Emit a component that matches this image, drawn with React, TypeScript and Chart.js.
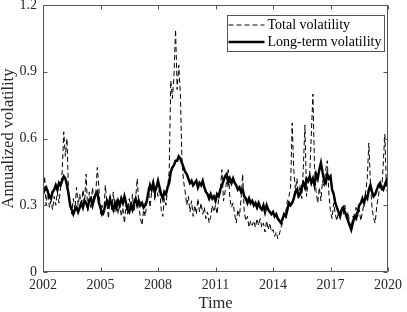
import React, { useEffect, useRef } from "react";
import { Chart, registerables } from "chart.js";

Chart.register(...registerables);

// ---------------- data ----------------
const startYear = 2002;
const monthsPerYear = 12;
const xTicks = [2002, 2005, 2008, 2011, 2014, 2017, 2020];
const yTicks = [0, 0.3, 0.6, 0.9, 1.2];
const seriesLabels = ["Total volatility", "Long-term volatility"];
const xTitle = "Time";
const yTitle = "Annualized volatility";

// monthly values, Jan 2002 .. Jan 2020
const totalVol = [
  0.33, 0.43, 0.30, 0.37, 0.29, 0.32, 0.28, 0.34, 0.30, 0.36, 0.31, 0.38,
  0.45, 0.63, 0.52, 0.60, 0.36, 0.29, 0.26, 0.33, 0.28, 0.38, 0.30, 0.35,
  0.29, 0.37, 0.31, 0.44, 0.27, 0.36, 0.29, 0.38, 0.31, 0.35, 0.47, 0.38,
  0.26, 0.30, 0.25, 0.39, 0.31, 0.24, 0.34, 0.28, 0.36, 0.27, 0.33, 0.26,
  0.31, 0.25, 0.29, 0.22, 0.30, 0.26, 0.33, 0.28, 0.35, 0.27, 0.33, 0.42,
  0.30, 0.24, 0.21, 0.28, 0.25, 0.31, 0.38, 0.29, 0.36, 0.41, 0.32, 0.38,
  0.34, 0.38, 0.28, 0.25, 0.33, 0.30, 0.38, 0.45, 0.86, 0.78, 0.88, 1.09,
  0.82, 0.93, 0.80, 0.50, 0.41, 0.36, 0.30, 0.34, 0.27, 0.32, 0.25, 0.30,
  0.26, 0.33, 0.27, 0.31, 0.26, 0.29, 0.24, 0.27, 0.22, 0.25, 0.30, 0.27,
  0.30, 0.26, 0.33, 0.36, 0.46, 0.32, 0.36, 0.41, 0.46, 0.33, 0.29, 0.31,
  0.26, 0.22, 0.28, 0.25, 0.33, 0.44, 0.27, 0.23, 0.25, 0.20, 0.23, 0.21,
  0.23, 0.20, 0.24, 0.21, 0.24, 0.20, 0.22, 0.18, 0.23, 0.19, 0.22, 0.18,
  0.19, 0.16, 0.18, 0.15, 0.17, 0.20, 0.22, 0.26, 0.27, 0.32, 0.34, 0.38,
  0.67, 0.46, 0.37, 0.42, 0.34, 0.39, 0.33, 0.47, 0.66, 0.34, 0.41, 0.44,
  0.62, 0.80, 0.47, 0.36, 0.31, 0.38, 0.32, 0.41, 0.38, 0.46, 0.50, 0.35,
  0.27, 0.24, 0.31, 0.26, 0.23, 0.27, 0.24, 0.29, 0.26, 0.30, 0.24, 0.27,
  0.22, 0.20, 0.25, 0.23, 0.29, 0.25, 0.28, 0.23, 0.27, 0.31, 0.36, 0.42,
  0.58, 0.40, 0.29, 0.24, 0.22, 0.30, 0.34, 0.40, 0.36, 0.48, 0.62, 0.38,
  0.35,
];

const longTermVol = [
  0.35, 0.37, 0.38, 0.36, 0.34, 0.33, 0.36, 0.37, 0.39, 0.37, 0.40, 0.39,
  0.41, 0.43, 0.42, 0.39, 0.35, 0.30, 0.28, 0.26, 0.28, 0.29, 0.27, 0.29,
  0.31, 0.29, 0.32, 0.31, 0.29, 0.32, 0.33, 0.30, 0.33, 0.35, 0.36, 0.31,
  0.29, 0.26, 0.27, 0.30, 0.32, 0.30, 0.33, 0.30, 0.28, 0.31, 0.29, 0.32,
  0.30, 0.33, 0.31, 0.34, 0.31, 0.28, 0.27, 0.30, 0.28, 0.31, 0.33, 0.30,
  0.32, 0.30, 0.31, 0.29, 0.30, 0.32, 0.36, 0.39, 0.37, 0.40, 0.36, 0.38,
  0.41, 0.38, 0.35, 0.33, 0.36, 0.35, 0.38, 0.40, 0.45, 0.47, 0.48, 0.50,
  0.50, 0.52, 0.51, 0.49, 0.47, 0.45, 0.44, 0.42, 0.40, 0.41, 0.39, 0.40,
  0.41, 0.38, 0.40, 0.39, 0.41, 0.38, 0.36, 0.35, 0.33, 0.35, 0.33, 0.34,
  0.32, 0.35, 0.34, 0.37, 0.39, 0.41, 0.43, 0.44, 0.40, 0.42, 0.40, 0.42,
  0.40, 0.39, 0.37, 0.38, 0.36, 0.37, 0.34, 0.33, 0.31, 0.33, 0.31, 0.32,
  0.30, 0.31, 0.29, 0.31, 0.29, 0.28, 0.30, 0.27, 0.30, 0.28, 0.27, 0.26,
  0.27, 0.25, 0.26, 0.24, 0.23, 0.22, 0.24, 0.26, 0.25, 0.28, 0.31, 0.30,
  0.31, 0.33, 0.36, 0.37, 0.34, 0.35, 0.38, 0.40, 0.38, 0.42, 0.41, 0.43,
  0.40, 0.42, 0.39, 0.44, 0.42, 0.46, 0.49, 0.45, 0.41, 0.40, 0.44, 0.42,
  0.43, 0.37, 0.35, 0.31, 0.29, 0.27, 0.25, 0.28, 0.29, 0.27, 0.25, 0.23,
  0.21, 0.19, 0.22, 0.25, 0.24, 0.27, 0.30, 0.31, 0.33, 0.31, 0.34, 0.33,
  0.37, 0.39, 0.36, 0.34, 0.35, 0.37, 0.39, 0.40, 0.38, 0.37, 0.39, 0.41,
  0.39,
];

const times = totalVol.map((_, i) => startYear + i / monthsPerYear);

// ---------------- styling ----------------
const FONT_FAMILY = "'Liberation Serif', 'Times New Roman', serif";
const TEXT_COLOR = "#262626";
const FRAME_COLOR = "#555555";

const framePlugin = {
  id: "matlabFrame",
  afterDatasetsDraw(chart: any) {
    const { ctx, chartArea: a, scales } = chart;
    ctx.save();
    ctx.strokeStyle = FRAME_COLOR;
    ctx.lineWidth = 1;
    ctx.setLineDash([]);
    const L = Math.round(a.left) + 0.5;
    const R = Math.round(a.right) - 0.5;
    const T = Math.round(a.top) + 0.5;
    const B = Math.round(a.bottom) - 0.5;
    ctx.beginPath();
    ctx.rect(L, T, R - L, B - T);
    const tl = 4;
    scales.x.ticks.forEach((t: any) => {
      const px = Math.round(scales.x.getPixelForValue(t.value)) + 0.5;
      ctx.moveTo(px, B);
      ctx.lineTo(px, B - tl);
      ctx.moveTo(px, T);
      ctx.lineTo(px, T + tl);
    });
    scales.y.ticks.forEach((t: any) => {
      const py = Math.round(scales.y.getPixelForValue(t.value)) + 0.5;
      ctx.moveTo(L, py);
      ctx.lineTo(L + tl, py);
      ctx.moveTo(R, py);
      ctx.lineTo(R - tl, py);
    });
    ctx.stroke();

    // legend inside the axes (top-right)
    ctx.font = `14px ${FONT_FAMILY}`;
    const textW = Math.max(...seriesLabels.map((s) => ctx.measureText(s).width));
    const sampleW = 36;
    const boxRight = Math.round(a.right) - 3.5;
    const boxW = Math.round(1 + sampleW + 3 + textW + 3);
    const boxLeft = boxRight - boxW;
    const boxTop = Math.round(a.top) + 10.5;
    const rowH = 17;
    const boxH = rowH * 2 + 2;
    ctx.fillStyle = "#ffffff";
    ctx.fillRect(boxLeft, boxTop, boxW, boxH);
    ctx.strokeStyle = FRAME_COLOR;
    ctx.lineWidth = 1;
    ctx.strokeRect(boxLeft, boxTop, boxW, boxH);
    chart.data.datasets.forEach((ds: any, i: number) => {
      const cy = Math.round(boxTop + 1 + rowH * (i + 0.5));
      ctx.beginPath();
      ctx.strokeStyle = ds.borderColor;
      ctx.lineWidth = ds.borderWidth;
      ctx.setLineDash(ds.borderDash || []);
      ctx.moveTo(boxLeft + 1, cy);
      ctx.lineTo(boxLeft + 1 + sampleW, cy);
      ctx.stroke();
      ctx.setLineDash([]);
      ctx.fillStyle = "#000000";
      ctx.textBaseline = "middle";
      ctx.textAlign = "left";
      ctx.fillText(ds.label, boxLeft + 1 + sampleW + 3, cy + 0.5);
    });
    ctx.restore();
  },
};

export default function App() {
  const canvasRef = useRef<HTMLCanvasElement | null>(null);

  useEffect(() => {
    const canvas = canvasRef.current;
    if (!canvas) return;
    const tickFont = { family: FONT_FAMILY, size: 14 };
    const titleFont = { family: FONT_FAMILY, size: 16.5 };
    const chart = new Chart(canvas, {
      type: "line",
      data: {
        datasets: [
          {
            label: seriesLabels[0],
            data: times.map((t, i) => ({ x: t, y: totalVol[i] })),
            borderColor: "#000000",
            borderWidth: 1,
            borderDash: [5, 3],
            pointRadius: 0,
            fill: false,
            tension: 0,
            order: 2,
          },
          {
            label: seriesLabels[1],
            data: times.map((t, i) => ({ x: t, y: longTermVol[i] })),
            borderColor: "#000000",
            borderWidth: 2.5,
            pointRadius: 0,
            fill: false,
            tension: 0,
            order: 1,
          },
        ],
      },
      options: {
        animation: false,
        responsive: false,
        devicePixelRatio: 1,
        layout: { padding: { top: 5, right: 19, left: 0, bottom: 0 } },
        plugins: {
          legend: { display: false },
          tooltip: { enabled: false },
        },
        scales: {
          x: {
            type: "linear",
            min: xTicks[0],
            max: xTicks[xTicks.length - 1],
            afterBuildTicks: (s: any) => {
              s.ticks = xTicks.map((v) => ({ value: v }));
            },
            afterFit: (s: any) => {
              s.height = 40;
              s.paddingLeft = 0;
              s.paddingRight = 0;
            },
            grid: { display: false, drawTicks: false },
            border: { display: false },
            ticks: {
              padding: 5,
              color: TEXT_COLOR,
              font: tickFont,
              autoSkip: false,
              maxRotation: 0,
              callback: (v: any) => String(v),
            },
            title: {
              display: true,
              text: xTitle,
              color: TEXT_COLOR,
              font: titleFont,
              padding: { top: 0, bottom: -1.5 },
            },
          },
          y: {
            type: "linear",
            min: yTicks[0],
            max: yTicks[yTicks.length - 1],
            afterBuildTicks: (s: any) => {
              s.ticks = yTicks.map((v) => ({ value: v }));
            },
            afterFit: (s: any) => {
              s.width = 43;
              s.paddingTop = 0;
              s.paddingBottom = 0;
            },
            grid: { display: false, drawTicks: false },
            border: { display: false },
            ticks: {
              padding: 6,
              color: TEXT_COLOR,
              font: tickFont,
              autoSkip: false,
              callback: (v: any) => (v === 0 ? "0" : Number(v).toFixed(1)),
            },
            title: {
              display: true,
              text: yTitle,
              color: TEXT_COLOR,
              font: titleFont,
              padding: { top: -1, bottom: 0 },
            },
          },
        },
      },
      plugins: [framePlugin],
    });
    return () => chart.destroy();
  }, []);

  return (
    <div style={{ position: "fixed", left: 0, top: 0, width: 407, height: 312, background: "#fff" }}>
      <canvas ref={canvasRef} width={407} height={312} style={{ width: 407, height: 312 }} />
    </div>
  );
}
